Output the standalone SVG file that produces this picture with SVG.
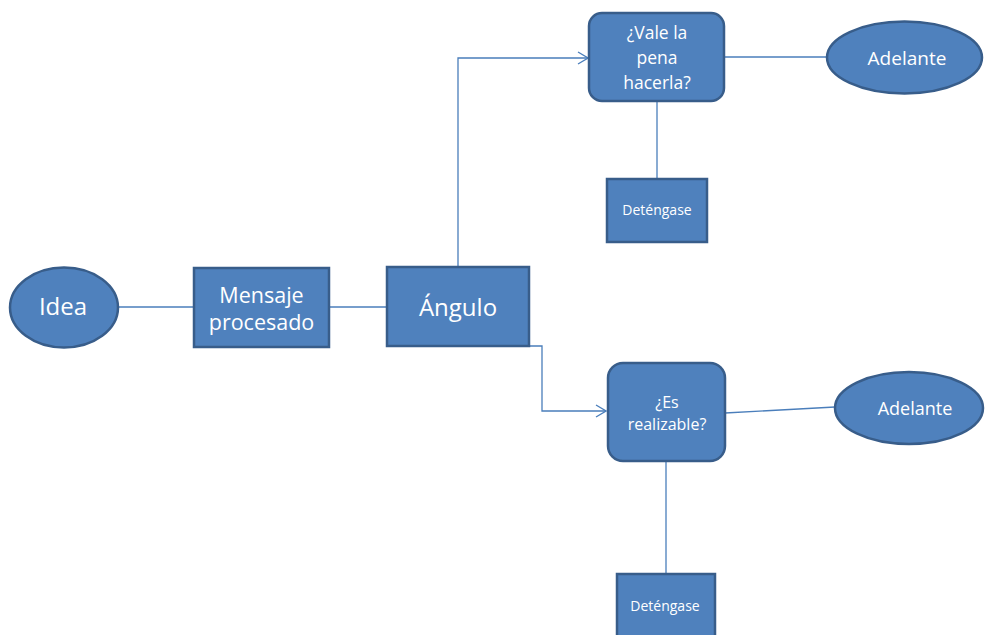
<svg xmlns="http://www.w3.org/2000/svg" width="985" height="635" viewBox="0 0 985 635">
<defs>
<style>
.n{fill:#4F81BD;stroke:#385D8A;stroke-width:2.5}
.c{fill:none;stroke:#4A7EBB;stroke-width:1.3}
.t{fill:#fff;font-family:"Open Sans","Liberation Sans",sans-serif;text-anchor:middle}
</style>
<marker id="ah" markerWidth="12" markerHeight="14" refX="11" refY="7" orient="auto" markerUnits="userSpaceOnUse">
<path d="M1,1 L11,7 L1,13" fill="none" stroke="#4A7EBB" stroke-width="1.3"/>
</marker>
</defs>
<rect width="985" height="635" fill="#fff"/>
<g id="connectors">
<line class="c" x1="118" y1="307" x2="194" y2="307"/>
<line class="c" x1="329" y1="307" x2="387" y2="307"/>
<path class="c" d="M458,267 V58 H588" marker-end="url(#ah)"/>
<path class="c" d="M529,346 H542 V411 H606" marker-end="url(#ah)"/>
<line class="c" x1="724" y1="57" x2="827" y2="57"/>
<line class="c" x1="657" y1="101" x2="657" y2="179"/>
<line class="c" x1="725" y1="413" x2="835" y2="407"/>
<line class="c" x1="666" y1="461" x2="666" y2="574"/>
</g>
<g id="idea">
<ellipse class="n" cx="64" cy="307.5" rx="54" ry="40"/>
<text class="t" x="63" y="315" font-size="24">Idea</text>
</g>
<g id="mensaje">
<rect class="n" x="194" y="268" width="135" height="79"/>
<text class="t" x="261.5" y="303" font-size="21.5">Mensaje</text>
<text class="t" x="261.5" y="330" font-size="21.5">procesado</text>
</g>
<g id="angulo">
<rect class="n" x="387" y="267" width="142" height="79"/>
<text class="t" x="458" y="316" font-size="24">Ángulo</text>
</g>
<g id="vale">
<rect class="n" x="589" y="13" width="135" height="88" rx="13"/>
<text class="t" x="657" y="39" font-size="17.5">¿Vale la</text>
<text class="t" x="657" y="64" font-size="17.5">pena</text>
<text class="t" x="657" y="89" font-size="17.5">hacerla?</text>
</g>
<g id="adelante1">
<ellipse class="n" cx="904.5" cy="57.5" rx="77.5" ry="36"/>
<text class="t" x="907" y="65" font-size="19">Adelante</text>
</g>
<g id="detengase1">
<rect class="n" x="607" y="179" width="100" height="63"/>
<text class="t" x="657" y="215" font-size="14">Deténgase</text>
</g>
<g id="realizable">
<rect class="n" x="608" y="363" width="117" height="98" rx="15"/>
<text class="t" x="667" y="408" font-size="16">¿Es</text>
<text class="t" x="667" y="430" font-size="16">realizable?</text>
</g>
<g id="adelante2">
<ellipse class="n" cx="909" cy="408" rx="74" ry="36"/>
<text class="t" x="915" y="415" font-size="18">Adelante</text>
</g>
<g id="detengase2">
<rect class="n" x="617" y="574" width="98" height="66"/>
<text class="t" x="665" y="611" font-size="14">Deténgase</text>
</g>
</svg>
